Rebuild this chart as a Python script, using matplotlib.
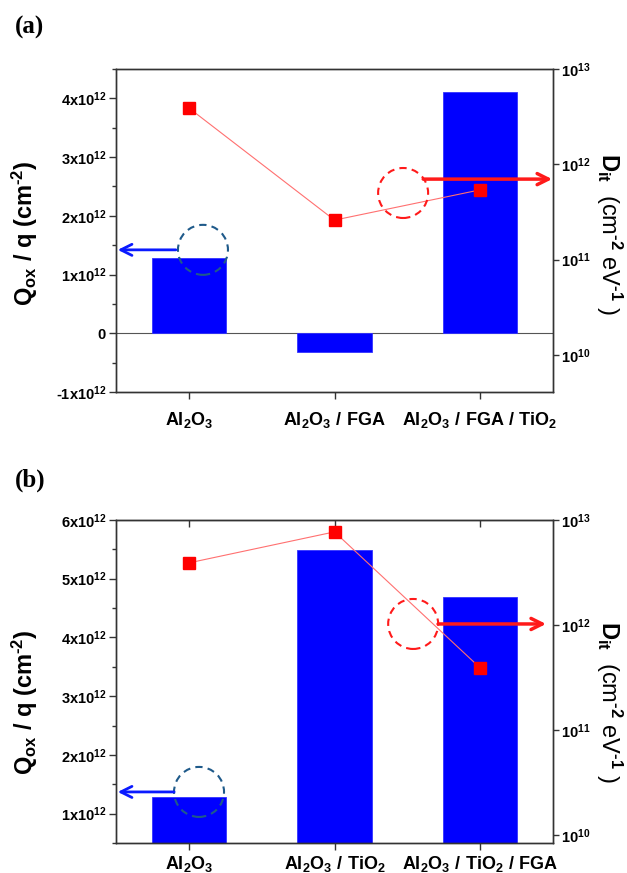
import numpy as np
import matplotlib
matplotlib.use("Agg")
import matplotlib.pyplot as plt
from matplotlib.patches import Ellipse
from matplotlib.ticker import FuncFormatter, MultipleLocator, FixedLocator

plt.rcParams['font.family'] = ['Liberation Sans', 'DejaVu Sans']
plt.rcParams['font.weight'] = 'bold'
plt.rcParams['mathtext.fontset'] = 'custom'
plt.rcParams['mathtext.rm'] = 'Liberation Sans'
plt.rcParams['mathtext.bf'] = 'Liberation Sans:bold'
plt.rcParams['mathtext.it'] = 'Liberation Sans:italic'

# data
labels_a = [r'$\mathbf{Al_2O_3}$', r'$\mathbf{Al_2O_3\ /\ FGA}$', r'$\mathbf{Al_2O_3\ /\ FGA\ /\ TiO_2}$']
qox_a = [1.28e12, -0.32e12, 4.10e12]
dit_a = [3.9e12, 2.6e11, 5.4e11]

labels_b = [r'$\mathbf{Al_2O_3}$', r'$\mathbf{Al_2O_3\ /\ TiO_2}$', r'$\mathbf{Al_2O_3\ /\ TiO_2\ /\ FGA}$']
qox_b = [1.29e12, 5.49e12, 4.68e12]
dit_b = [3.9e12, 7.7e12, 3.9e11]

spine_c = '#333333'


def qfmt(v, pos):
    if abs(v) < 1e6:
        return r'$\mathbf{0}$'
    m = int(round(v / 1e12))
    sign = '-' if m < 0 else ''
    return sign + r'$\mathbf{%dx10^{12}}$' % abs(m)


def dfmt(v, pos):
    return r'$\mathbf{10^{%d}}$' % int(round(np.log10(v)))


def panel(ax, labels, qox, dit, qlim, dlim, lab_y, top_ticks, xpad):
    x = np.arange(len(labels))
    ax.bar(x, qox, width=0.51, color='#0000ff', edgecolor='#3333ff', linewidth=0.6, zorder=2)
    ax.set_xlim(-0.5, 2.5)
    ax.set_ylim(*qlim)
    ax.set_xticks(x)
    ax.set_xticklabels(labels, fontsize=13)
    ax.yaxis.set_major_locator(MultipleLocator(1e12))
    ax.yaxis.set_minor_locator(MultipleLocator(0.5e12))
    ax.yaxis.set_major_formatter(FuncFormatter(qfmt))
    ax.tick_params(axis='y', which='major', length=5, width=1.0, color=spine_c, labelsize=10.5, pad=2)
    ax.tick_params(axis='y', which='minor', length=3, width=1.0, color=spine_c)
    ax.tick_params(axis='x', length=5, width=1.0, color=spine_c, pad=xpad)
    for s in ax.spines.values():
        s.set_color(spine_c)
        s.set_linewidth(1.0)
    if top_ticks:
        sec = ax.secondary_xaxis('top')
        sec.set_xticks(x)
        sec.tick_params(direction='in', length=5, width=1.0, color=spine_c, labeltop=False)
        sec.spines['top'].set_color(spine_c)

    ax2 = ax.twinx()
    ax2.set_yscale('log')
    ax2.set_ylim(*dlim)
    ax2.plot(x, dit, color='#ff7070', lw=0.8, marker='s', ms=8.5, mfc='#ff0000', mec='#ff0000', zorder=3)
    ax2.yaxis.set_major_locator(FixedLocator([1e10, 1e11, 1e12, 1e13]))
    ax2.yaxis.set_minor_locator(FixedLocator([]))
    ax2.yaxis.set_major_formatter(FuncFormatter(dfmt))
    ax2.tick_params(axis='y', length=4, width=1.0, color=spine_c, labelsize=10.5, pad=2)
    for s in ax2.spines.values():
        s.set_color(spine_c)
        s.set_linewidth(1.0)

    ax.text(-0.208, lab_y, r'$\mathbf{Q_{ox}}$ / q $\mathbf{(cm^{\text{-}2})}$', rotation=90,
            ha='center', va='center', fontsize=17, fontweight='bold', transform=ax.transAxes)
    ax.text(1.128, lab_y, r'$\mathbf{D_{it}}$  (cm$^{\text{-}2}$ eV$^{\text{-}1}$ )', rotation=270,
            ha='center', va='center', fontsize=17, fontweight='normal', transform=ax.transAxes)
    return ax2


def circle(ax, cx, cy, color):
    # 50 px circle, expressed in axes fraction (axes are 437 x 323 px)
    e = Ellipse((cx, cy), 50 / 437, 50 / 323, transform=ax.transAxes, fill=False,
                edgecolor=color, lw=1.5, linestyle=(0, (3.5, 2.5)), zorder=5, clip_on=False)
    ax.add_patch(e)


def arrow(ax, x0, x1, y, color, lw):
    ax.annotate('', xy=(x1, y), xytext=(x0, y), xycoords='axes fraction',
                arrowprops=dict(arrowstyle='->', color=color, lw=lw, mutation_scale=20,
                                shrinkA=0, shrinkB=0), zorder=6, annotation_clip=False)


fig = plt.figure(figsize=(6.27, 8.73), dpi=100)
ax_a = fig.add_axes([0.185, 0.551, 0.697, 0.370])
ax_b = fig.add_axes([0.185, 0.0344, 0.697, 0.370])

a2 = panel(ax_a, labels_a, qox_a, dit_a, (-1e12, 4.5e12), (4.1e9, 1e13), 0.49, False, 8)
ax_a.axhline(0, color='#555555', lw=0.8, zorder=1)
b2 = panel(ax_b, labels_b, qox_b, dit_b, (0.5e12, 6e12), (8.4e9, 1e13), 0.435, True, 3)

circle(a2, 0.199, 0.440, '#1f5a8a')
arrow(a2, 0.137, 0.004, 0.440, '#0a1aff', 2.0)
circle(a2, 0.657, 0.616, '#ff1a1a')
arrow(a2, 0.703, 0.998, 0.659, '#ff1a1a', 2.5)

circle(b2, 0.190, 0.158, '#1f5a8a')
arrow(b2, 0.133, 0.004, 0.158, '#0a1aff', 2.0)
circle(b2, 0.680, 0.678, '#ff1a1a')
arrow(b2, 0.737, 0.984, 0.678, '#ff1a1a', 2.5)

fig.text(0.024, 0.968, '(a)', family='Liberation Serif', fontweight='bold', fontsize=18,
         ha='left', va='center')
fig.text(0.024, 0.450, '(b)', family='Liberation Serif', fontweight='bold', fontsize=18,
         ha='left', va='center')

fig.savefig('out.png', dpi=100)
